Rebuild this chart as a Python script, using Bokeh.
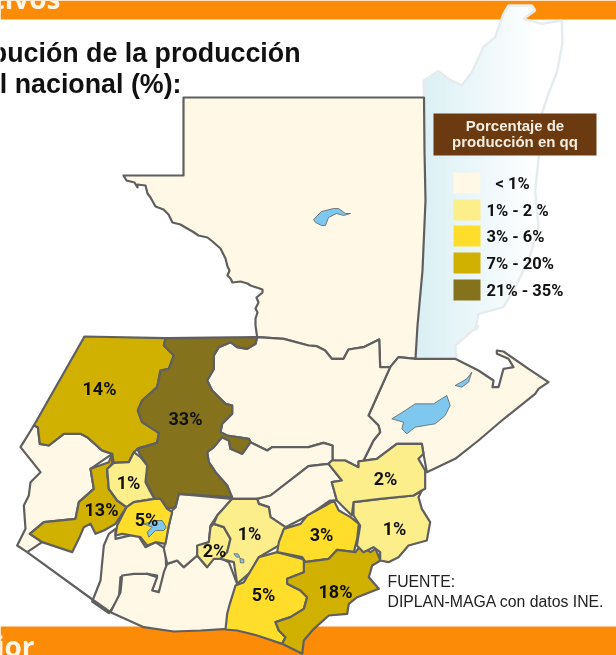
from bokeh.plotting import figure
from bokeh.embed import file_html
from bokeh.resources import INLINE
from bokeh.models import Range1d
from bokeh.core.properties import value

ORANGE = "#FC8B08"; LINE = "#5F5F5F"; LAKE = "#7EC8F0"
C0, C1, C2, C3, C4 = "#FFF8E6", "#FDEE8C", "#FFDD2B", "#D0B000", "#85721C"

legend_labels = ["< 1%", "1% - 2 %", "3% - 6%", "7% - 20%", "21% - 35%"]
legend_colors = [C0, C1, C2, C3, C4]
legend_top = [172, 199, 225, 252, 279]
legend_bot = [193, 220, 246, 273, 300]

def z(ox, oy, c):
    return [(ox + x / 3, oy + y / 3) for x, y in c]
def z2(c): return z(308, 0, c)
def z3(c): return z(0, 325, c)
def z4(c): return z(308, 325, c)
def z5(c): return z(200, 480, c)
def z7(c): return z(0, 470, c)

peten = [(183,97),(423.5,97),(424,150),(425,200),(422,270),(417,325),(415,358)] + \
    z4([(322,100),(270,95),(245,125),(215,125),(212,42),(165,65),(120,72),(105,100),(70,100),(50,75),(25,62),(0,60)]) + \
    z3([(850,40),(770,35),(765,0)]) + \
    [(255,318),(257,312),(255,308),(258,302),(256,297),(262,292),(262,289),(250,285),(247,283),(240,281),(232,282),(230,278),(227,275),(229,270),(227,266),(225,258),(220,248),(212,241),(207,237),(198,235),(192,231),(185,227),(180,224),(172,222),(168,214),(163,209),(155,206),(150,197),(147,193),(145,185),(137,184),(137,187),(134,182),(126,180),(123,175),(183,175)]

depts = [
 ("Peten", peten, C0),
 ("Izabal", z4([(322,100),(440,100),(510,135),(555,165),(552,185),(570,185),(585,130),(615,125),(600,100),(565,85),(565,75),(585,78),(660,130),(720,170),(690,190),(680,205),(580,285),(510,345),(440,400),(355,440),(345,385),(340,355),(265,355),(205,400),(165,405),(195,345),(215,320),(210,300),(180,270),(245,125),(270,95)]), C0),
 ("Alta Verapaz", z3([(770,35),(850,40),(924,60)]) + z4([(25,62),(50,75),(70,100),(105,100),(120,72),(165,65),(212,42),(215,125),(245,125),(180,270),(210,300),(215,320),(195,345),(165,405),(150,408),(150,425),(110,405),(72,405),(72,360),(45,352),(0,365)]) + z3([(815,365),(800,375),(750,350),(745,340),(680,330),(660,320),(665,295),(695,265),(695,240),(675,235),(635,195),(620,165),(640,130),(640,90),(655,65),(690,50),(710,65),(740,70),(765,55)]), C0),
 ("Baja Verapaz", z3([(620,380),(640,365),(665,335),(685,345),(690,370),(725,385),(750,350),(800,375),(815,365)]) + z4([(0,365),(45,352),(72,360),(72,405),(60,415),(0,422)]) + z3([(810,510),(775,520),(695,520),(680,480),(645,440),(625,410)]), C0),
 ("El Progreso", z4([(0,422),(60,415),(100,465),(70,470),(85,525),(65,525),(0,570)]) + z3([(855,605),(810,575),(805,545),(775,535),(770,520),(810,510)]), C0),
 ("San Marcos", z3([(100,300),(60,365),(120,440),(90,470),(85,510),(70,540),(75,610),(50,660),(80,680),(125,650),(88,625),(130,590),(225,580),(235,530),(280,490),(270,430),(335,385),(305,375),(260,335),(240,325),(190,325),(145,360),(118,355),(112,305)]), C0),
 ("Suchitepequez", z7([(345,175),(325,190),(310,225),(300,330),(275,393),(325,428),(355,385),(360,320),(400,315),(440,310),(470,315),(455,360),(475,365),(490,320),(497,290),(495,235),(465,215),(435,230),(410,190),(345,205)]), C0),
 ("Escuintla W", z3([(330,860),(360,800),(365,750),(400,745),(440,745),(470,755),(455,795),(475,800),(490,740),(500,715),(530,705),(550,725),(590,690),(620,725),(645,690),(685,710),(710,775),(680,870),(680,910),(600,915),(520,918),(430,905)]), C0),
 ("Chimaltenango", z3([(535,505),(695,520),(650,570),(630,600),(625,650),(590,680),(590,690),(550,725),(530,705),(500,715),(490,670),(505,600),(515,555),(525,545)]), C0),
 ("Huehuetenango", z3([(252,33),(495,38),(490,60),(520,90),(505,130),(480,135),(470,185),(425,225),(412,255),(425,290),(475,322),(470,352),(415,368),(400,380),(385,410),(340,412),(335,385),(305,375),(260,335),(240,325),(190,325),(145,360),(118,355),(112,305),(100,300)]), C3),
 ("Quiche", z3([(495,38),(770,35),(765,55),(740,70),(710,65),(690,50),(655,65),(640,90),(640,130),(620,165),(635,195),(675,235),(695,240),(695,265),(665,295),(660,320),(680,330),(745,340),(750,350),(725,385),(690,370),(685,345),(665,335),(640,365),(620,380),(625,410),(645,440),(680,480),(695,515),(535,505),(525,545),(500,550),(480,520),(462,520),(445,485),(435,470),(440,420),(420,390),(410,370),(470,352),(475,322),(425,290),(412,255),(425,225),(470,185),(480,135),(505,130),(520,90),(490,60)]), C4),
 ("Quetzaltenango", z3([(335,385),(325,410),(270,430),(280,490),(235,530),(225,580),(130,590),(88,625),(125,650),(215,680),(235,640),(250,605),(270,595),(285,625),(310,615),(345,595),(378,545),(350,525),(325,490),(320,440),(335,412)]), C3),
 ("Totonicapan", z3([(340,412),(385,410),(400,380),(420,395),(440,420),(435,470),(445,490),(462,520),(400,530),(378,545),(350,525),(325,490),(320,430)]), C1),
 ("Solola", z3([(462,520),(480,520),(500,550),(515,560),(505,600),(495,655),(465,650),(440,660),(420,635),(365,625),(345,630),(350,600),(378,545),(400,530)]), C2),
 ("Sacatepequez", z3([(640,595),(670,605),(690,640),(680,680),(660,700),(640,700),(620,725),(590,690),(590,660),(625,650),(630,605)]), C1),
 ("Guatemala", z3([(650,570),(695,520),(770,520),(775,535),(805,545),(810,575),(855,605),(835,660),(775,695),(750,740),(710,775),(700,710),(660,700),(680,680),(690,640),(670,605),(640,595)]), C1),
 ("Escuintla", z5([(230,215),(305,235),(315,245),(310,275),(260,295),(260,310),(300,330),(320,350),(310,385),(270,410),(225,425),(235,450),(255,470),(245,490),(170,465),(110,450),(75,447),(80,400),(88,370),(105,315),(130,305),(175,230)]), C2),
 ("Jalapa", z5([(250,145),(300,130),(320,105),(375,75),(400,60),(415,90),(450,110),(475,130),(470,175),(460,215),(410,208),(385,235),(315,245),(305,230),(230,215),(235,185)]), C2),
 ("Jutiapa", z5([(310,245),(385,235),(410,208),(465,215),(480,195),(510,215),(525,205),(540,240),(515,255),(505,290),(535,325),(470,350),(445,370),(440,400),(385,405),(340,445),(310,480),(305,520),(245,490),(255,470),(235,450),(225,425),(270,410),(310,385),(320,350),(300,330),(260,310),(260,295),(310,275)]), C3),
 ("Chiquimula", z4([(135,530),(215,520),(315,510),(340,495),(330,515),(340,550),(365,590),(355,645),(300,660),(270,695),(240,710),(215,705),(215,680),(195,665),(165,680),(145,660),(155,600),(135,570)]), C1),
 ("Zacapa", z4([(70,405),(110,405),(150,425),(150,408),(205,400),(265,355),(340,355),(345,385),(330,400),(350,435),(350,490),(340,495),(315,510),(215,520),(135,530),(130,570),(85,525),(70,470),(100,465),(60,415)]), C1),
]

lakes = [
 [(313,219),(321,211),(333,208),(338,208),(345,213),(350,213),(343,215),(336,213),(328,217),(325,225),(321,225),(315,222)],
 z4([(250,280),(290,255),(320,235),(375,235),(415,210),(425,240),(410,270),(380,295),(320,305),(295,325),(280,310),(285,290)]),
 z4([(440,180),(475,160),(490,140),(480,170),(460,185)]),
 z3([(430,595),(465,585),(485,585),(497,605),(490,615),(465,615),(445,635),(440,620),(455,605)]),
 z3([(700,685),(712,685),(718,695),(708,695)]),
 z3([(718,698),(730,702),(730,712),(720,712)]),
]

coast_gap = z3([(80,680),(280,825),(330,860)])

belize = z2([(345,240),(390,212),(420,235),(460,255),(490,215),(525,140),(560,110),(585,40),(600,15),(670,15),(680,30),(645,55),(700,70),(760,60),(762,130),(745,215),(720,280),(700,340),(690,480),(680,570),(690,680),(660,780),(620,860),(585,920),(510,940),(500,990)]) + \
    z4([(510,0),(440,60),(445,100),(325,100),(328,0)]) + z2([(350,600),(347,290)])

labels = ["14%", "33%", "1%", "13%", "5%", "1%", "2%", "5%", "3%", "18%", "2%", "1%"]
label_x = [99, 185, 128, 101, 146, 249, 214, 263, 321, 335, 385, 394]
label_y = [388, 418, 482, 509, 519, 533, 550, 594, 534, 591, 478, 528]

p = figure(width=616, height=655, x_range=Range1d(0, 616), y_range=Range1d(655, 0),
           output_backend="svg", toolbar_location=None, min_border=0, outline_line_color=None,
           background_fill_color="white", border_fill_color="white")
p.xaxis.visible = False
p.yaxis.visible = False
p.grid.visible = False
p.styles = {"position": "fixed", "left": "0px", "top": "0px"}

# orange bands
p.quad(left=[0, 0], right=[616, 616], top=[0, 626], bottom=[19, 655], fill_color=ORANGE, line_color=None)

# Belize, pale gradient
def clip(poly, x0, x1):
    def cut(pts, inside, inter):
        out = []
        for i in range(len(pts)):
            a, b = pts[i - 1], pts[i]
            if inside(b):
                if not inside(a):
                    out.append(inter(a, b))
                out.append(b)
            elif inside(a):
                out.append(inter(a, b))
        return out
    def at(xv):
        return lambda a, b: (xv, a[1] + (b[1] - a[1]) * (xv - a[0]) / (b[0] - a[0]))
    r = cut(poly, lambda q: q[0] >= x0, at(x0))
    if r:
        r = cut(r, lambda q: q[0] <= x1, at(x1))
    return r

bx0, bx1 = 415, 540
steps = 25
for i in range(steps):
    a = bx0 + (bx1 - bx0) * i / steps
    b = bx0 + (bx1 - bx0) * (i + 1) / steps
    part = clip(belize, a, b + (0.5 if i < steps - 1 else 0))
    if part:
        t = i / (steps - 1)
        col = "#%02X%02X%02X" % (int(218 + 37 * t), int(240 + 15 * t), int(245 + 10 * t))
        p.patch([q[0] for q in part], [q[1] for q in part], fill_color=col, line_color=None)
p.patch([q[0] for q in belize], [q[1] for q in belize], fill_color=None, line_color="#E6ECEE", line_width=2.5)

# departments
for name, poly, col in depts:
    p.patch([q[0] for q in poly], [q[1] for q in poly], fill_color=col, line_color=LINE,
            line_width=2.2, line_join="round")
p.line([q[0] for q in coast_gap], [q[1] for q in coast_gap], line_color=LINE, line_width=2.2)

for lk in lakes:
    p.patch([q[0] for q in lk], [q[1] for q in lk], fill_color=LAKE, line_color=LINE, line_width=0.8)

# labels on the map
p.text(label_x, label_y, text=labels, text_font=value("Roboto"), text_font_style="bold",
       text_font_size="18px", text_align="center", text_baseline="middle", text_color="#111111")

# title
p.text([300], [52], text=["Distribución de la producción"], text_font=value("Liberation Sans"), text_font_style="bold",
       text_font_size="26.8px", text_align="right", text_baseline="middle", text_color="#111111")
p.text([181], [83], text=["del total nacional (%):"], text_font=value("Liberation Sans"), text_font_style="bold",
       text_font_size="26.8px", text_align="right", text_baseline="middle", text_color="#111111")

# band texts
p.text([60], [-3], text=["Objetivos"], text_font=value("Open Sans"), text_font_style="bold",
       text_font_size="28px", text_align="right", text_baseline="middle", text_color="#FFF6E8")
p.text([34], [645], text=["Exterior"], text_font=value("Open Sans"), text_font_style="bold",
       text_font_size="28px", text_align="right", text_baseline="middle", text_color="#FFF6E8")

# legend
p.quad(left=[433], right=[596], top=[113], bottom=[155], fill_color="#6B3A10", line_color=None)
p.text([514.5], [125], text=["Porcentaje de"], text_font=value("Liberation Sans"), text_font_style="bold",
       text_font_size="15px", text_align="center", text_baseline="middle", text_color="#F5EDE0")
p.text([514.5], [141], text=["producción en qq"], text_font=value("Liberation Sans"), text_font_style="bold",
       text_font_size="15px", text_align="center", text_baseline="middle", text_color="#F5EDE0")
p.quad(left=[453] * 5, right=[480] * 5, top=legend_top, bottom=legend_bot, fill_color=legend_colors, line_color=None)
legend_x = [495, 486, 486, 486, 486]
p.text(legend_x, [(a + b) / 2 for a, b in zip(legend_top, legend_bot)], text=legend_labels,
       text_font=value("Roboto"), text_font_style="bold", text_font_size="16.5px",
       text_align="left", text_baseline="middle", text_color="#111111")

# source
p.text([387], [581], text=["FUENTE:"], text_font=value("Liberation Sans"), text_font_size="15.8px",
       text_align="left", text_baseline="middle", text_color="#222222")
p.text([387], [601], text=["DIPLAN-MAGA con datos INE."], text_font=value("Liberation Sans"), text_font_size="15.8px",
       text_align="left", text_baseline="middle", text_color="#222222")

open("out.html", "w").write(file_html(p, INLINE))
